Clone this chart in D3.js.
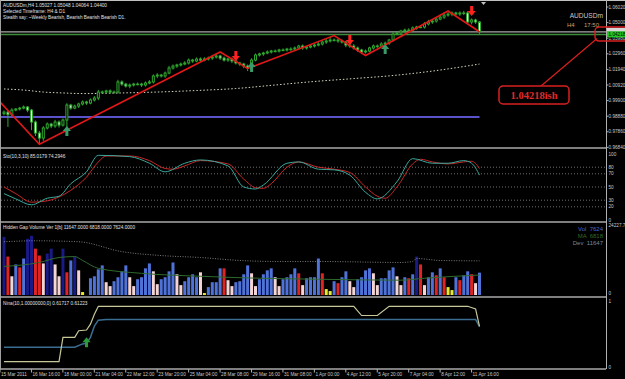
<!DOCTYPE html>
<html>
<head>
<meta charset="utf-8">
<script src="https://cdn.jsdelivr.net/npm/d3@7"></script>
<style>
body { margin: 0; background: #000; }
svg { display: block; font-family: "Liberation Sans", Arial, sans-serif; }
</style>
</head>
<body>
<div id="maindiv"></div>
<script>
// ---- data ----
var firstOpen = 0.9905;
var closes = [
  0.9915,0.9898,0.9928,0.9935,0.9941,0.9948,0.9928,0.9850,0.9778,0.9745,
  0.9811,0.9837,0.9824,0.9850,0.9830,0.9863,0.9961,0.9941,0.9954,0.9968,
  0.9981,0.9974,0.9994,1.0007,1.0046,1.0046,1.0053,1.0046,1.0046,1.0112,
  1.0098,1.0085,1.0092,1.0098,1.0098,1.0092,1.0105,1.0112,1.0151,1.0157,
  1.0151,1.0170,1.0203,1.0216,1.0223,1.0229,1.0236,1.0255,1.0249,1.0262,
  1.0255,1.0262,1.0268,1.0275,1.0282,1.0268,1.0255,1.0262,1.0249,1.0236,
  1.0229,1.0216,1.0203,1.0255,1.0288,1.0295,1.0301,1.0308,1.0314,1.0314,
  1.0321,1.0321,1.0327,1.0327,1.0334,1.0347,1.0334,1.0340,1.0347,1.0353,
  1.0360,1.0373,1.0380,1.0386,1.0386,1.0380,1.0373,1.0353,1.0347,1.0334,
  1.0321,1.0308,1.0314,1.0334,1.0347,1.0347,1.0360,1.0366,1.0386,1.0425,
  1.0432,1.0445,1.0451,1.0451,1.0465,1.0471,1.0471,1.0491,1.0504,1.0510,
  1.0523,1.0536,1.0549,1.0556,1.0563,1.0556,1.0563,1.0563,1.0504,1.0517,
  1.0504,1.0440];
// wick lengths in pips above / below the body
var upWick = [
  10,8,12,6,8,10,6,8,10,14, 12,10,8,14,10,10,12,8,10,8, 10,8,10,12,14,10,8,10,10,14,
  10,8,10,8,10,8,10,12,10,12, 8,10,14,10,8,10,12,10,8,10, 10,12,10,14,16,8,10,8,10,12,
  8,8,10,12,10,8,8,10,8,10, 8,10,8,12,10,8,10,8,10,10, 12,10,14,20,10,8,10,8,10,12,
  10,8,10,8,10,10,12,10,8,12, 10,8,10,12,10,8,10,12,14,10, 12,16,20,12,10,8,10,14,12,10,
  8,6];
var dnWick = [
  12,80,10,8,10,8,14,53,20,40, 18,10,14,12,16,10,66,10,8,12, 10,12,8,10,14,10,8,12,10,10,
  12,10,14,10,8,12,10,8,10,14, 10,12,8,10,12,10,8,10,12,8, 10,8,10,12,10,12,10,12,14,10,
  12,14,20,10,8,10,12,8,10,8, 10,8,10,12,8,10,12,10,8,10, 8,10,12,10,8,12,10,14,12,10,
  12,14,10,8,10,12,8,10,12,10, 8,10,12,8,10,12,8,10,10,12, 10,8,12,10,14,10,12,14,10,16,
  12,14];

var zigzag = [[-1,0.9981],[9,0.9705],[55,1.0308],[62,1.0200],[84,1.0415],[92,1.0285],[113,1.0576],[121,1.0440]];
var downArrows = [[59,1.0249],[88,1.0354],[119,1.0543]];
var upArrows = [[16,0.9824],[63,1.0242],[97,1.0360]];
var maLine = [[0,1.0066],[5,1.0059],[10,1.0046],[15,1.0040],[20,1.0036],[30,1.0040],[39,1.0046],[49,1.0056],
  [59,1.0069],[69,1.0092],[79,1.0115],[89,1.0134],[99,1.0154],[109,1.0183],[121,1.0229]];
var blueLevel = 0.9883, greenLevel = 1.04218, bidLevel = 1.0440;
var priceTicks = [1.06020,1.05000,1.03980,1.02960,1.01940,1.00920,0.99900,0.98880,0.97860,0.96840];

var stochMain = [[0,40],[3,32],[7,23],[11,33],[14,36],[17,55],[21,73],[24,98],[32,96],[37,86],[41,73],[46,86],
  [50,91],[57,82],[61,50],[64,47],[66,53],[72,86],[75,88],[80,77],[84,76],[88,68],[92,42],[95,32],[100,58],
  [104,93],[109,86],[113,86],[117,90],[119,86],[121,68]];
var stochSignal = [[0,50],[3,40],[7,27],[11,29],[14,35],[17,45],[21,65],[24,88],[26,97],[32,97],[37,90],[41,78],
  [43,77],[46,82],[50,90],[57,85],[61,62],[64,49],[66,48],[68,55],[72,80],[75,88],[80,80],[84,77],[88,72],
  [92,50],[95,36],[97,33],[100,50],[104,85],[106,92],[109,88],[113,85],[117,88],[119,89],[121,78]];
var stochLevels = [80,70,50,30,20];
var stochTicks = [100,80,70,50,30,20,0];

var volumes = [
  19850,13120,6390,10430,9420,12450,19180,20190,15820,13460,
  10770,14130,15820,10430,6390,15820,7740,11780,13120,8410,
  1010,0,5720,6390,8750,10100,4370,3030,4710,6060,
  8080,10100,6060,3030,5380,6060,9090,10770,8080,3700,
  5380,6060,8080,11100,7070,3370,4710,6060,7070,6060,
  7740,670,2690,4370,4370,9090,9090,5050,3030,4370,
  4710,7070,10100,7400,3030,5380,7070,8410,9090,6060,
  3030,5380,6060,7070,9090,7400,3370,5720,6060,6060,
  12450,7400,2020,1350,4710,4040,6060,8080,4710,2690,
  5380,6060,8410,9090,7400,3370,5720,5720,8410,9420,
  6390,3370,6060,5720,7070,13120,10430,3370,6060,7740,
  6730,9090,6060,2690,1680,6060,5050,6730,8080,7070,
  4040,7624];
var volTypes = "NRPBRBNNRRPNNPPNRBNPYBBBBBPPBBBBPPBBBBPPBBBBPPBBBBPYBBBBRPPBBBBPPBBBBPPBBBBRPBBBBRYYBRBBPPBBBBPPBBBBPPBRBNRPBBRBRYYBRBBRPB";
var volMA = [[0,9760],[9,11100],[14,12790],[18,13120],[20,11780],[24,9090],[35,7400],[50,6390],[65,5720],
  [80,5380],[101,5050],[107,5720],[121,6818]];
var volDev = [[0,18170],[8,18500],[19,18170],[30,14800],[40,13460],[50,12790],[60,11780],[70,11440],[80,11440],
  [101,11100],[104,11440],[105,12450],[111,11780],[121,11647]];

var ninaA = [[0,0.08],[14,0.08],[15,0.45],[18,0.45],[19,0.55],[21,0.56],[22,0.65],[23,0.80],[24,0.92],[89,0.92],
  [91,0.78],[95,0.78],[98,0.92],[118,0.92],[120,0.88],[121,0.617]];
var ninaB = [[0,0.30],[18,0.30],[20,0.35],[21,0.36],[22,0.45],[23,0.62],[24,0.71],[26,0.72],[120,0.72],[121,0.612]];
var ninaArrow = [21, 0.45];

var timeLabels = ["15 Mar 2011","16 Mar 16:00","18 Mar 00:00","21 Mar 04:00","22 Mar 12:00","23 Mar 20:00",
  "25 Mar 04:00","28 Mar 08:00","29 Mar 16:00","31 Mar 08:00","1 Apr 00:00","4 Apr 12:00","5 Apr 20:00",
  "7 Apr 04:00","8 Apr 12:00","11 Apr 16:00"];
var headerLines = ["AUDUSDm,H4  1.05027 1.05048 1.04064 1.04400",
  "Selected Timeframe: H4 & D1",
  "Stealth say: ~Weekly Bearish, Bearish Bearish Bearish D1."];

// ---- drawing ----
var width = 625, height = 379;
var axisX = 606;
var svg = d3.select("#maindiv").append("svg").attr("width", width).attr("height", height)
  .style("background", "#000");

var x = d3.scaleLinear().domain([0, 121]).range([4, 479.5]);
var yP = d3.scaleLinear().domain([0.96840, 1.06020]).range([147.4, 7]);
var yS = d3.scaleLinear().domain([0, 100]).range([220, 154]);
var yV = d3.scaleLinear().domain([0, 24227.7]).range([295, 224]);
var yN = d3.scaleLinear().domain([0, 1]).range([367, 301]);

var green = "#2fa82f";
var labelCol = "#c8c8c8";
var tiny = 4.7;

svg.append("clipPath").attr("id", "clipMain").append("rect").attr("x", 1).attr("y", 1).attr("width", axisX - 1).attr("height", 146);

// frame + separators
svg.append("line").attr("x1", 0).attr("x2", width).attr("y1", 0.5).attr("y2", 0.5).attr("stroke", "#c0c0c0");
svg.append("line").attr("x1", 0.5).attr("x2", 0.5).attr("y1", 0).attr("y2", 369).attr("stroke", "#a0a0a0");
[148, 222, 297, 369].forEach(function (y) {
  svg.append("line").attr("x1", 0).attr("x2", axisX).attr("y1", y).attr("y2", y)
    .attr("stroke", "#a8a8a8").attr("stroke-width", 1.5);
});
svg.append("line").attr("x1", axisX + 0.5).attr("x2", axisX + 0.5).attr("y1", 0).attr("y2", 369).attr("stroke", "#b0b0b0");

// ---- main panel ----
var main = svg.append("g").attr("clip-path", "url(#clipMain)");

main.append("line").attr("x1", x(-1)).attr("x2", x(121)).attr("y1", yP(blueLevel)).attr("y2", yP(blueLevel))
  .attr("stroke", "#5a52c8").attr("stroke-width", 2);
main.append("line").attr("x1", 0).attr("x2", axisX).attr("y1", yP(bidLevel)).attr("y2", yP(bidLevel))
  .attr("stroke", "#a8a8a8").attr("stroke-width", 1.2);
main.append("line").attr("x1", 0).attr("x2", axisX).attr("y1", yP(greenLevel)).attr("y2", yP(greenLevel))
  .attr("stroke", "#3c8c3c").attr("stroke-width", 1.5);

main.append("path").datum(maLine)
  .attr("d", d3.line().x(d => x(d[0])).y(d => yP(d[1])).curve(d3.curveMonotoneX))
  .attr("fill", "none").attr("stroke", "#d8d8c0").attr("stroke-width", 1).attr("stroke-dasharray", "1.5,2");

var candles = closes.map(function (c, i) {
  var o = i ? closes[i - 1] : firstOpen;
  return { i: i, o: o, c: c, h: Math.max(o, c) + upWick[i] * 0.0001, l: Math.min(o, c) - dnWick[i] * 0.0001 };
});
var cg = main.append("g");
cg.selectAll("line").data(candles).enter().append("line")
  .attr("x1", d => x(d.i)).attr("x2", d => x(d.i))
  .attr("y1", d => yP(d.h)).attr("y2", d => yP(d.l))
  .attr("stroke", green).attr("stroke-width", 1);
cg.selectAll("rect").data(candles).enter().append("rect")
  .attr("x", d => x(d.i) - 1)
  .attr("y", d => yP(Math.max(d.o, d.c)))
  .attr("width", 2)
  .attr("height", d => Math.max(0.6, Math.abs(yP(d.o) - yP(d.c))))
  .attr("fill", d => d.c >= d.o ? "#000" : "#fff")
  .attr("stroke", green).attr("stroke-width", 1);

main.append("path").datum(zigzag)
  .attr("d", d3.line().x(d => x(d[0])).y(d => yP(d[1])))
  .attr("fill", "none").attr("stroke", "#e01818").attr("stroke-width", 1.6);

function downArrow(cx, tip) {
  return "M" + (cx - 1.5) + "," + (tip - 10) + "h3v5h2.6l-4.1,5l-4.1,-5h2.6z";
}
function upArrow(cx, tip) {
  return "M" + (cx - 1.5) + "," + (tip + 10) + "h3v-5h2.6l-4.1,-5l-4.1,5h2.6z";
}
main.selectAll(".dn").data(downArrows).enter().append("path")
  .attr("d", d => downArrow(x(d[0]), yP(d[1]))).attr("fill", "#ff2020");
main.selectAll(".up").data(upArrows).enter().append("path")
  .attr("d", d => upArrow(x(d[0]), yP(d[1]))).attr("fill", "#3a9a68");

// chart shift marker
svg.append("path").attr("d", "M481,2h5l-2.5,3z").attr("fill", "#c0c0c0");

// header
svg.selectAll(".hdr").data(headerLines).enter().append("text")
  .attr("x", 3).attr("y", (d, i) => 7 + i * 6)
  .attr("font-size", tiny).attr("fill", "#e0e0e0").text(d => d);

svg.append("text").attr("x", 603).attr("y", 17.5).attr("text-anchor", "end")
  .attr("font-size", 6.6).attr("fill", "#c8c8c8").text("AUDUSDm");
svg.append("text").attr("x", 567).attr("y", 26.5).attr("font-size", 6).attr("fill", "#c8a070").text("H4");
svg.append("text").attr("x", 599).attr("y", 26.5).attr("text-anchor", "end")
  .attr("font-size", 6).attr("fill", "#c8a070").text("17:50");

// price axis
var pa = svg.append("g");
pa.selectAll("line").data(priceTicks).enter().append("line")
  .attr("x1", axisX).attr("x2", axisX + 2.5).attr("y1", d => yP(d)).attr("y2", d => yP(d)).attr("stroke", "#b0b0b0");
pa.selectAll("text").data(priceTicks).enter().append("text")
  .attr("x", 608.5).attr("y", d => yP(d) + 1.6)
  .attr("font-size", tiny).attr("fill", labelCol).text(d => d.toFixed(5));
pa.append("rect").attr("x", axisX + 1).attr("y", yP(bidLevel) - 4).attr("width", 19).attr("height", 4)
  .attr("fill", "#d8d8d8");
pa.append("rect").attr("x", axisX + 1).attr("y", yP(greenLevel) - 3.2).attr("width", 19).attr("height", 6)
  .attr("fill", "#22c822");
pa.append("text").attr("x", 608.5).attr("y", yP(greenLevel) + 1.6)
  .attr("font-size", tiny).attr("fill", "#000").text(greenLevel.toFixed(5));

// red callout
var callout = svg.append("g");
callout.append("line").attr("x1", 541).attr("y1", 86).attr("x2", 597).attr("y2", yP(greenLevel) + 4)
  .attr("stroke", "#d82020").attr("stroke-width", 1.2);
callout.append("rect").attr("x", 595).attr("y", yP(greenLevel) - 7.5).attr("width", 34).attr("height", 14).attr("rx", 4)
  .attr("fill", "none").attr("stroke", "#d82020").attr("stroke-width", 1.4);
callout.append("rect").attr("x", 499).attr("y", 86).attr("width", 70).attr("height", 18).attr("rx", 4)
  .attr("fill", "#000").attr("stroke", "#d82020").attr("stroke-width", 1.5);
callout.append("text").attr("x", 534).attr("y", 98.8).attr("text-anchor", "middle")
  .style("font-family", "'Liberation Serif', 'DejaVu Serif', serif").style("font-weight", "bold")
  .attr("font-size", 10.5).attr("fill", "#e02a2a").text("1.04218ish");

// ---- stochastic panel ----
var st = svg.append("g");
st.selectAll(".lvl").data(stochLevels).enter().append("line")
  .attr("x1", 1).attr("x2", axisX).attr("y1", d => yS(d)).attr("y2", d => yS(d))
  .attr("stroke", "#8a8a8a").attr("stroke-width", 0.8).attr("stroke-dasharray", "1,2");
var sLine = d3.line().x(d => x(d[0])).y(d => yS(d[1])).curve(d3.curveMonotoneX);
st.append("path").datum(stochSignal).attr("d", sLine).attr("fill", "none").attr("stroke", "#c82828").attr("stroke-width", 1);
st.append("path").datum(stochMain).attr("d", sLine).attr("fill", "none").attr("stroke", "#3aa89a").attr("stroke-width", 1);
st.append("text").attr("x", 3).attr("y", 158).attr("font-size", tiny).attr("fill", "#e0e0e0")
  .text("Sto(10,3,10) 85.0179 74.2946");
st.selectAll(".tk").data(stochTicks).enter().append("text")
  .attr("x", 608.5).attr("y", d => yS(d) + 1.6).attr("font-size", tiny).attr("fill", labelCol).text(d => d);

// ---- volume panel ----
var vg = svg.append("g");
var volColor = d3.scaleOrdinal().domain(["N", "R", "P", "B", "Y"])
  .range(["#1a1a86", "#e02424", "#f4d4d4", "#4f72d8", "#e8e830"]);
vg.selectAll("rect").data(volumes).enter().append("rect")
  .attr("x", (d, i) => x(i) - 1.5).attr("width", 3)
  .attr("y", d => yV(d)).attr("height", d => yV(0) - yV(d))
  .attr("fill", (d, i) => volColor(volTypes[i]));
var vLine = d3.line().x(d => x(d[0])).y(d => yV(d[1])).curve(d3.curveMonotoneX);
vg.append("path").datum(volDev).attr("d", vLine).attr("fill", "none").attr("stroke", "#9a9a9a")
  .attr("stroke-width", 0.8).attr("stroke-dasharray", "1,1.5");
vg.append("path").datum(volMA).attr("d", vLine).attr("fill", "none").attr("stroke", "#2e6a2e").attr("stroke-width", 1);
vg.append("text").attr("x", 3).attr("y", 229).attr("font-size", tiny).attr("fill", "#e0e0e0")
  .text("Hidden Gap Volume Ver 1[b] 11647.0000 6818.0000 7624.0000");
[["Vol", "7624", "#4a68d0", 230.5], ["MA", "6818", "#2e6a2e", 237.5], ["Dev", "11647", "#7a8898", 244.5]].forEach(function (r) {
  vg.append("text").attr("x", 603).attr("y", r[3]).attr("text-anchor", "end")
    .attr("font-size", 6).attr("fill", r[2]).style("white-space", "pre").text(r[0] + "  " + r[1]);
});
vg.append("text").attr("x", 608.5).attr("y", 227).attr("font-size", tiny).attr("fill", labelCol).text("24227.7");
vg.append("text").attr("x", 608.5).attr("y", 295).attr("font-size", tiny).attr("fill", labelCol).text("0");

// ---- nina panel ----
var ng = svg.append("g");
var nLine = d3.line().x(d => x(d[0])).y(d => yN(d[1]));
ng.append("path").datum(ninaB).attr("d", nLine).attr("fill", "none").attr("stroke", "#3a6e90").attr("stroke-width", 1.5);
ng.append("path").datum(ninaA).attr("d", nLine).attr("fill", "none").attr("stroke", "#c8c89a").attr("stroke-width", 1.2);
ng.append("path").attr("d", upArrow(x(ninaArrow[0]), yN(ninaArrow[1]))).attr("fill", "#2a9a3a");
ng.append("text").attr("x", 3).attr("y", 305).attr("font-size", tiny).attr("fill", "#e0e0e0")
  .text("Nina(10,1.00000000,0) 0.61717 0.61223");
ng.append("text").attr("x", 608.5).attr("y", yN(1) + 1.6).attr("font-size", tiny).attr("fill", labelCol).text("1");
ng.append("text").attr("x", 608.5).attr("y", yN(0) + 1.6).attr("font-size", tiny).attr("fill", labelCol).text("0");

// ---- time axis ----
var ta = svg.append("g");
ta.selectAll("line").data(timeLabels).enter().append("line")
  .attr("x1", (d, i) => x(i * 8) - 4).attr("x2", (d, i) => x(i * 8) - 4)
  .attr("y1", 369).attr("y2", 372.5).attr("stroke", "#b0b0b0");
ta.selectAll("text").data(timeLabels).enter().append("text")
  .attr("x", (d, i) => x(i * 8) - 3).attr("y", 376)
  .attr("font-size", tiny).attr("fill", labelCol).text(d => d);
</script>
</body>
</html>
